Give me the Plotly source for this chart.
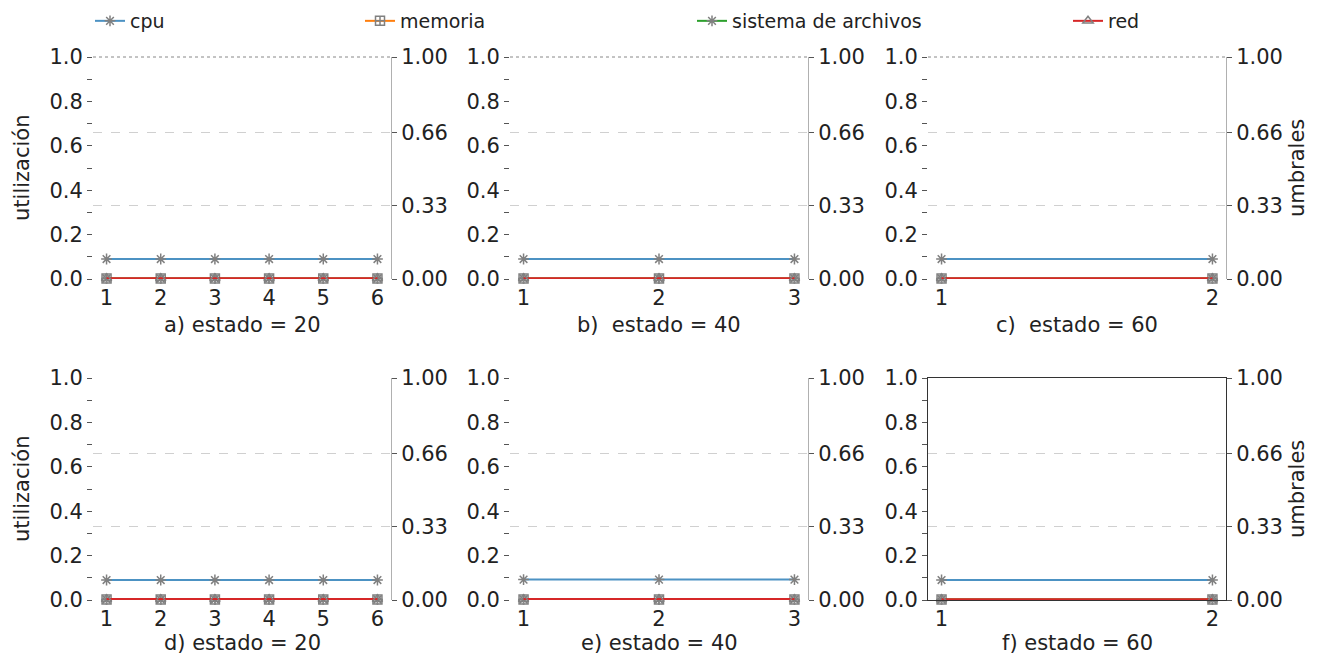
import plotly.graph_objects as go

W, H = 1318, 656

# ---------------- data ----------------
panel_labels = ["a) estado = 20", "b)\u00a0 estado = 40", "c)\u00a0 estado = 60",
                "d) estado = 20", "e) estado = 40", "f) estado = 60"]
panel_x = [[1, 2, 3, 4, 5, 6], [1, 2, 3], [1, 2],
           [1, 2, 3, 4, 5, 6], [1, 2, 3], [1, 2]]
cpu_vals = [[0.09] * 6, [0.09] * 3, [0.09] * 2,
            [0.09] * 6, [0.092] * 3, [0.09] * 2]
mem_vals = [[0.002] * 6, [0.002] * 3, [0.002] * 2,
            [0.002] * 6, [0.002] * 3, [0.002] * 2]
fs_vals = [[0.002] * 6, [0.002] * 3, [0.002] * 2,
           [0.002] * 6, [0.002] * 3, [0.002] * 2]
red_vals = [[0.003] * 6, [0.003] * 3, [0.003] * 2,
            [0.004] * 6, [0.004] * 3, [0.003] * 2]
series_names = ["cpu", "memoria", "sistema de archivos", "red"]
left_ticks = [round(i * 0.1, 1) for i in range(11)]
left_ticktext = [f"{v:.1f}" if i % 2 == 0 else "" for i, v in enumerate(left_ticks)]
right_ticks = [0.0, 0.33, 0.66, 1.0]
right_ticktext = ["0.00", "0.33", "0.66", "1.00"]

# ---------------- styles ----------------
colors = ["rgba(31,119,180,0.8)", "#ff7f0e", "#2ca02c", "#d62728"]
symbols = ["asterisk-open", "square-cross-open", "asterisk-open", "triangle-up-open"]
mgray = "#808080"
FONT = "DejaVu Sans"
TXT = "#222222"
TICK = 21

def px_x(p):
    return p / W

def px_y(p):
    return 1 - p / H

col_px = [(93, 391), (510, 808), (928, 1226)]
row_px = [(57, 279), (378, 600)]

fig = go.Figure()
layout = dict(width=W, height=H, margin=dict(l=0, r=0, t=0, b=0, autoexpand=False),
              paper_bgcolor="white", plot_bgcolor="white",
              font=dict(family=FONT, size=20, color=TXT), showlegend=True)
shapes = []
annotations = []

all_vals = [cpu_vals, mem_vals, fs_vals, red_vals]
for i in range(6):
    r, c = divmod(i, 3)
    xd = [px_x(col_px[c][0]), px_x(col_px[c][1])]
    yd = [px_y(row_px[r][1]), px_y(row_px[r][0])]
    xs = panel_x[i]
    span = xs[-1] - xs[0]
    rng = [xs[0] - 0.05 * span, xs[-1] + 0.05 * span]
    ax = i + 1
    boxed = (i == 5)
    xkey = "xaxis" if ax == 1 else f"xaxis{ax}"
    ykey = "yaxis" if ax == 1 else f"yaxis{ax}"
    xa = f"x{ax}" if ax > 1 else "x"
    ya = f"y{ax}" if ax > 1 else "y"
    layout[xkey] = dict(domain=xd, range=rng, anchor=ya,
                        tickvals=xs, ticktext=[str(v) for v in xs],
                        ticks="outside", ticklen=4, tickcolor="#888",
                        ticklabelstandoff=-4,
                        showgrid=False, zeroline=False,
                        showline=boxed, linecolor="#333", mirror=boxed,
                        tickfont=dict(size=TICK, color=TXT, family=FONT))
    layout[ykey] = dict(domain=yd, range=[0, 1], anchor=xa,
                        tickvals=left_ticks, ticktext=left_ticktext,
                        ticks="outside", ticklen=5, tickcolor="#555",
                        showgrid=False, zeroline=False,
                        showline=boxed, linecolor="#333",
                        tickfont=dict(size=TICK, color=TXT, family=FONT))
    rk = f"yaxis{ax + 6}"
    layout[rk] = dict(overlaying=ya, anchor=xa,
                      side="right", range=[0, 1],
                      tickvals=right_ticks, ticktext=right_ticktext,
                      ticks="outside", ticklen=5, tickcolor="#555",
                      showgrid=True, gridcolor="#d0d0d0", griddash="dash", gridwidth=1,
                      zeroline=False, showline=True,
                      linecolor="#333" if boxed else "#b0b0b0",
                      tickfont=dict(size=TICK, color=TXT, family=FONT))
    fig.add_trace(go.Scatter(x=[xs[0]], y=[None], xaxis=xa,
                             yaxis=f"y{ax + 6}", showlegend=False, hoverinfo="skip"))
    for s in range(4):
        fig.add_trace(go.Scatter(
            x=xs, y=all_vals[s][i], mode="lines+markers", name=series_names[s],
            xaxis=xa, yaxis=ya,
            line=dict(color=colors[s], width=2),
            marker=dict(symbol=symbols[s], size=9, color=mgray,
                        line=dict(color=mgray, width=1.5)),
            cliponaxis=False,
            showlegend=(i == 0),
            legend="legend" if s == 0 else f"legend{s + 1}"))
    if r == 0:
        shapes.append(dict(type="line", xref=f"{xa} domain",
                           yref="paper", x0=0, x1=1, y0=yd[1], y1=yd[1],
                           line=dict(color="#888", width=1, dash="dot")))
    cx = (col_px[c][0] + col_px[c][1]) / 2
    ly = 325 if r == 0 else 643
    annotations.append(dict(text=panel_labels[i], x=px_x(cx), y=px_y(ly),
                            xref="paper", yref="paper", showarrow=False,
                            xanchor="center", yanchor="middle",
                            font=dict(size=21, color=TXT, family=FONT)))

for r in range(2):
    cy = (row_px[r][0] + row_px[r][1]) / 2
    annotations.append(dict(text="utilización", x=px_x(22), y=px_y(cy), xref="paper", yref="paper",
                            showarrow=False, textangle=-90, xanchor="center", yanchor="middle",
                            font=dict(size=21, color=TXT, family=FONT)))
    annotations.append(dict(text="umbrales", x=px_x(1297), y=px_y(cy), xref="paper", yref="paper",
                            showarrow=False, textangle=-90, xanchor="center", yanchor="middle",
                            font=dict(size=21, color=TXT, family=FONT)))

leg_x = [90, 360, 692, 1068]
for s in range(4):
    key = "legend" if s == 0 else f"legend{s + 1}"
    layout[key] = dict(x=px_x(leg_x[s]), y=1 - 2 / H, xanchor="left", yanchor="top",
                       orientation="h", bgcolor="rgba(0,0,0,0)", borderwidth=0,
                       font=dict(size=19, color=TXT, family=FONT))

layout["shapes"] = shapes
layout["annotations"] = annotations
fig.update_layout(**layout)
fig.write_html("out.html")
